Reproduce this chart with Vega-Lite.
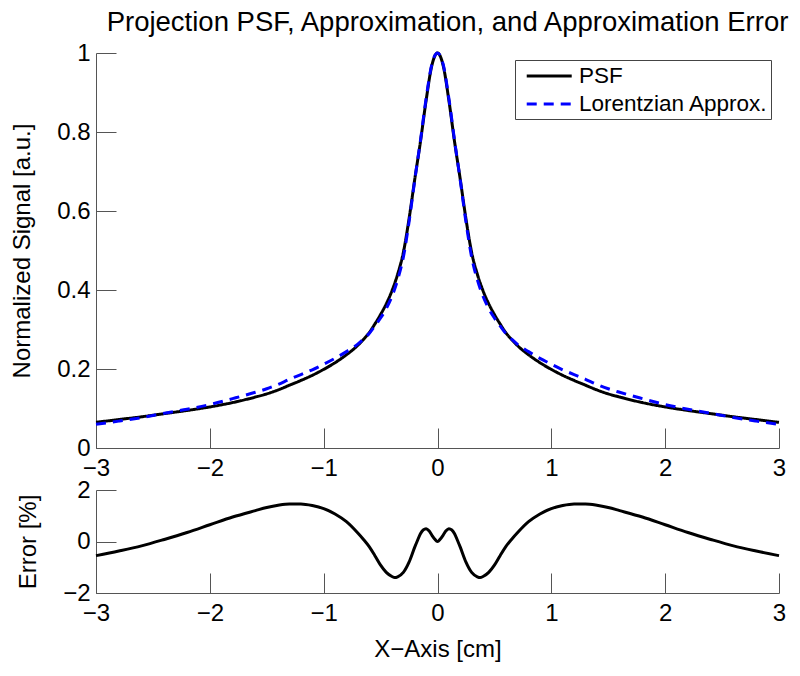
{
  "$schema": "https://vega.github.io/schema/vega-lite/v6.json",
  "padding": {"left": 10, "top": 8, "right": 5, "bottom": 5},
  "bounds": "flush",
  "spacing": 42,
  "title": {"text": "Projection PSF, Approximation, and Approximation Error", "fontSize": 27.5, "fontWeight": "normal", "color": "black", "anchor": "middle", "frame": "group", "offset": 5, "dx": 10},
  "datasets": {
    "main": [
      {"x": -3.0, "psf": 0.065, "lor": 0.06},
      {"x": -2.8, "psf": 0.072, "lor": 0.068},
      {"x": -2.6, "psf": 0.079, "lor": 0.077},
      {"x": -2.4, "psf": 0.087, "lor": 0.088},
      {"x": -2.2, "psf": 0.095, "lor": 0.098},
      {"x": -2.0, "psf": 0.104, "lor": 0.11},
      {"x": -1.8, "psf": 0.115, "lor": 0.125},
      {"x": -1.6, "psf": 0.129, "lor": 0.141},
      {"x": -1.5, "psf": 0.137, "lor": 0.15},
      {"x": -1.4, "psf": 0.147, "lor": 0.161},
      {"x": -1.3, "psf": 0.159, "lor": 0.174},
      {"x": -1.2, "psf": 0.171, "lor": 0.186},
      {"x": -1.1, "psf": 0.184, "lor": 0.198},
      {"x": -1.0, "psf": 0.199, "lor": 0.212},
      {"x": -0.9, "psf": 0.216, "lor": 0.227},
      {"x": -0.8, "psf": 0.236, "lor": 0.244},
      {"x": -0.7, "psf": 0.26, "lor": 0.263},
      {"x": -0.65, "psf": 0.275, "lor": 0.276},
      {"x": -0.6, "psf": 0.292, "lor": 0.29},
      {"x": -0.55, "psf": 0.314, "lor": 0.309},
      {"x": -0.5, "psf": 0.338, "lor": 0.329},
      {"x": -0.45, "psf": 0.365, "lor": 0.353},
      {"x": -0.4, "psf": 0.398, "lor": 0.384},
      {"x": -0.35, "psf": 0.44, "lor": 0.426},
      {"x": -0.3, "psf": 0.495, "lor": 0.483},
      {"x": -0.25, "psf": 0.58, "lor": 0.572},
      {"x": -0.2, "psf": 0.68, "lor": 0.678},
      {"x": -0.15, "psf": 0.775, "lor": 0.778},
      {"x": -0.1, "psf": 0.88, "lor": 0.885},
      {"x": -0.05, "psf": 0.968, "lor": 0.971},
      {"x": 0.0, "psf": 1.0, "lor": 1.0},
      {"x": 0.05, "psf": 0.968, "lor": 0.971},
      {"x": 0.1, "psf": 0.88, "lor": 0.885},
      {"x": 0.15, "psf": 0.775, "lor": 0.778},
      {"x": 0.2, "psf": 0.68, "lor": 0.678},
      {"x": 0.25, "psf": 0.58, "lor": 0.572},
      {"x": 0.3, "psf": 0.495, "lor": 0.483},
      {"x": 0.35, "psf": 0.44, "lor": 0.426},
      {"x": 0.4, "psf": 0.398, "lor": 0.384},
      {"x": 0.45, "psf": 0.365, "lor": 0.353},
      {"x": 0.5, "psf": 0.338, "lor": 0.329},
      {"x": 0.55, "psf": 0.314, "lor": 0.309},
      {"x": 0.6, "psf": 0.292, "lor": 0.29},
      {"x": 0.65, "psf": 0.275, "lor": 0.276},
      {"x": 0.7, "psf": 0.26, "lor": 0.263},
      {"x": 0.8, "psf": 0.236, "lor": 0.244},
      {"x": 0.9, "psf": 0.216, "lor": 0.227},
      {"x": 1.0, "psf": 0.199, "lor": 0.212},
      {"x": 1.1, "psf": 0.184, "lor": 0.198},
      {"x": 1.2, "psf": 0.171, "lor": 0.186},
      {"x": 1.3, "psf": 0.159, "lor": 0.174},
      {"x": 1.4, "psf": 0.147, "lor": 0.161},
      {"x": 1.5, "psf": 0.137, "lor": 0.15},
      {"x": 1.6, "psf": 0.129, "lor": 0.141},
      {"x": 1.8, "psf": 0.115, "lor": 0.125},
      {"x": 2.0, "psf": 0.104, "lor": 0.11},
      {"x": 2.2, "psf": 0.095, "lor": 0.098},
      {"x": 2.4, "psf": 0.087, "lor": 0.088},
      {"x": 2.6, "psf": 0.079, "lor": 0.077},
      {"x": 2.8, "psf": 0.072, "lor": 0.068},
      {"x": 3.0, "psf": 0.065, "lor": 0.06}
    ],
    "err": [
      {"x": -3.0, "e": -0.55},
      {"x": -2.8, "e": -0.37},
      {"x": -2.6, "e": -0.17},
      {"x": -2.4, "e": 0.08},
      {"x": -2.2, "e": 0.35},
      {"x": -2.0, "e": 0.65},
      {"x": -1.8, "e": 0.95},
      {"x": -1.6, "e": 1.2},
      {"x": -1.5, "e": 1.32},
      {"x": -1.4, "e": 1.41},
      {"x": -1.3, "e": 1.46},
      {"x": -1.2, "e": 1.46},
      {"x": -1.1, "e": 1.4},
      {"x": -1.0, "e": 1.28},
      {"x": -0.9, "e": 1.07},
      {"x": -0.8, "e": 0.77},
      {"x": -0.7, "e": 0.33},
      {"x": -0.65, "e": 0.08},
      {"x": -0.6, "e": -0.2},
      {"x": -0.55, "e": -0.55},
      {"x": -0.5, "e": -0.92},
      {"x": -0.45, "e": -1.2},
      {"x": -0.4, "e": -1.36},
      {"x": -0.375, "e": -1.4},
      {"x": -0.35, "e": -1.37},
      {"x": -0.3, "e": -1.2},
      {"x": -0.25, "e": -0.8},
      {"x": -0.2, "e": -0.22},
      {"x": -0.175, "e": 0.05},
      {"x": -0.15, "e": 0.3},
      {"x": -0.125, "e": 0.45},
      {"x": -0.1, "e": 0.5},
      {"x": -0.075, "e": 0.42},
      {"x": -0.05, "e": 0.25},
      {"x": -0.025, "e": 0.1},
      {"x": 0.0, "e": 0.0},
      {"x": 0.025, "e": 0.1},
      {"x": 0.05, "e": 0.25},
      {"x": 0.075, "e": 0.42},
      {"x": 0.1, "e": 0.5},
      {"x": 0.125, "e": 0.45},
      {"x": 0.15, "e": 0.3},
      {"x": 0.175, "e": 0.05},
      {"x": 0.2, "e": -0.22},
      {"x": 0.25, "e": -0.8},
      {"x": 0.3, "e": -1.2},
      {"x": 0.35, "e": -1.37},
      {"x": 0.375, "e": -1.4},
      {"x": 0.4, "e": -1.36},
      {"x": 0.45, "e": -1.2},
      {"x": 0.5, "e": -0.92},
      {"x": 0.55, "e": -0.55},
      {"x": 0.6, "e": -0.2},
      {"x": 0.65, "e": 0.08},
      {"x": 0.7, "e": 0.33},
      {"x": 0.8, "e": 0.77},
      {"x": 0.9, "e": 1.07},
      {"x": 1.0, "e": 1.28},
      {"x": 1.1, "e": 1.4},
      {"x": 1.2, "e": 1.46},
      {"x": 1.3, "e": 1.46},
      {"x": 1.4, "e": 1.41},
      {"x": 1.5, "e": 1.32},
      {"x": 1.6, "e": 1.2},
      {"x": 1.8, "e": 0.95},
      {"x": 2.0, "e": 0.65},
      {"x": 2.2, "e": 0.35},
      {"x": 2.4, "e": 0.08},
      {"x": 2.6, "e": -0.17},
      {"x": 2.8, "e": -0.37},
      {"x": 3.0, "e": -0.55}
    ]
  },
  "vconcat": [
    {
      "width": 683,
      "height": 395,
      "data": {"name": "main"},
      "transform": [{"fold": ["psf", "lor"], "as": ["series", "v"]}],
      "mark": {"type": "line", "strokeWidth": 3, "interpolate": "monotone"},
      "encoding": {
        "x": {"field": "x", "type": "quantitative", "scale": {"domain": [-3, 3], "nice": false}, "axis": {"values": [-3, -2, -1, 0, 1, 2, 3], "format": "~g", "title": null}},
        "y": {"field": "v", "type": "quantitative", "scale": {"domain": [0, 1], "nice": false}, "axis": {"values": [0, 0.2, 0.4, 0.6, 0.8, 1], "format": "~g", "title": "Normalized Signal [a.u.]"}},
        "color": {"field": "series", "type": "nominal", "scale": {"domain": ["psf", "lor"], "range": ["#000000", "#0000ff"]},
          "legend": {"title": null, "orient": "none", "legendX": 419, "legendY": 7, "strokeColor": "#444", "fillColor": "white", "padding": 3, "labelFontSize": 22.5, "labelColor": "black", "labelLimit": 400, "symbolSize": 506, "symbolStrokeWidth": 3, "symbolType": "M-0.38,0H3.62", "labelOffset": 35, "rowPadding": 3, "labelExpr": "datum.value == 'psf' ? 'PSF' : 'Lorentzian Approx.'"}},
        "strokeDash": {"field": "series", "type": "nominal", "scale": {"domain": ["psf", "lor"], "range": [[1, 0], [10, 7]]},
          "legend": {"title": null, "orient": "none", "legendX": 419, "legendY": 7, "strokeColor": "#444", "fillColor": "white", "padding": 3, "labelFontSize": 22.5, "labelColor": "black", "labelLimit": 400, "symbolSize": 506, "symbolStrokeWidth": 3, "symbolType": "M-0.38,0H3.62", "labelOffset": 35, "rowPadding": 3, "labelExpr": "datum.value == 'psf' ? 'PSF' : 'Lorentzian Approx.'"}}
      }
    },
    {
      "width": 683,
      "height": 103,
      "data": {"name": "err"},
      "mark": {"type": "line", "strokeWidth": 3, "color": "black", "interpolate": "monotone"},
      "encoding": {
        "x": {"field": "x", "type": "quantitative", "scale": {"domain": [-3, 3], "nice": false}, "axis": {"values": [-3, -2, -1, 0, 1, 2, 3], "format": "~g", "title": "X−Axis [cm]", "titlePadding": 12}},
        "y": {"field": "e", "type": "quantitative", "scale": {"domain": [-2, 2], "nice": false}, "axis": {"values": [-2, 0, 2], "format": "~g", "title": "Error [%]"}}
      }
    }
  ],
  "config": {
    "font": "Liberation Sans",
    "view": {"stroke": null},
    "axis": {"grid": false, "domainColor": "#555", "domainWidth": 1, "tickColor": "#555", "tickWidth": 1, "tickSize": -20, "labelFontSize": 24, "labelColor": "black", "labelPadding": 28, "labelFlush": false, "labelOverlap": false, "titleFontSize": 24, "titleFontWeight": "normal", "titleColor": "black", "titlePadding": 22},
    "axisY": {"labelPadding": 26, "titlePadding": 22}
  }
}
